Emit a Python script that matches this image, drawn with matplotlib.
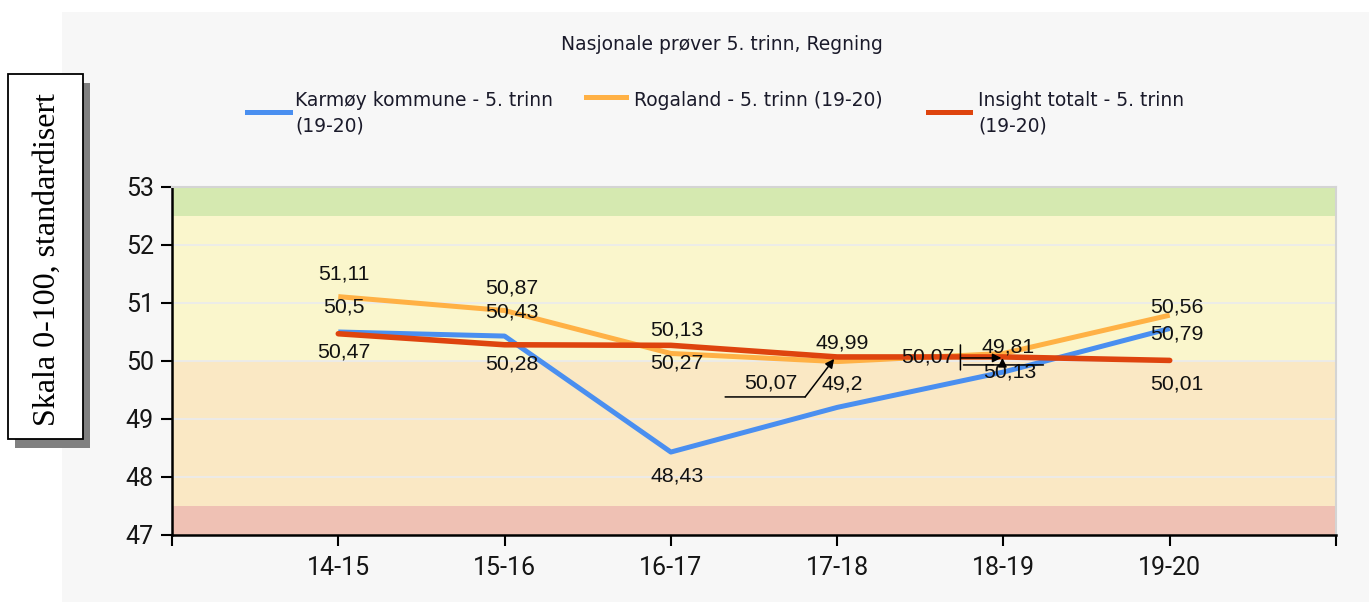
import matplotlib
matplotlib.use("Agg")
import matplotlib.pyplot as plt
from matplotlib.patches import Rectangle
from matplotlib.lines import Line2D

# --- values ---
seasons = ["14-15", "15-16", "16-17", "17-18", "18-19", "19-20"]
karmoy = [50.5, 50.43, 48.43, 49.2, 49.81, 50.56]
rogaland = [51.11, 50.87, 50.13, 49.99, 50.13, 50.79]
insight = [50.47, 50.28, 50.27, 50.07, 50.07, 50.01]

y_ticks = [47, 48, 49, 50, 51, 52, 53]

# coloured bands behind the lines (low, high)
bands = [(47, 47.5), (47.5, 50), (50, 52.5), (52.5, 53)]
band_colours = ["#efc1b4", "#fae8c4", "#faf6cc", "#d5e9b0"]

title = "Nasjonale prøver 5. trinn, Regning"
series_names = ["Karmøy kommune - 5. trinn\n(19-20)",
                "Rogaland - 5. trinn (19-20)",
                "Insight totalt - 5. trinn\n(19-20)"]
ylabel = "Skala 0-100, standardisert"

BLUE = "#4a8ff0"
ORANGE = "#ffb145"
RED = "#de440e"

W, H = 1369, 602
DPI = 100
PT = 72 / DPI  # one pixel in points

# where each data label sits, in pixels from its point (dx right, dy down)
blue_offsets = [(6, -25), (7, -24), (6, 24), (5, -23), (5, -25), (7, -22)]
orange_offsets = [(6, -23), (7, -23), (6, -23), (5, -19), (6, 19), (7, 19)]
red_offsets = [(6, 18), (7, 19), (6, 18), (-66, 26), (-76, 0), (7, 24)]


def fx(px):
    return px / W


def fy(py):
    return 1 - py / H


def fmt(v):
    return f"{v:g}".replace(".", ",")


def main():
    fig = plt.figure(figsize=(W / DPI, H / DPI), dpi=DPI, facecolor="white")

    # light grey chart area
    fig.add_artist(Rectangle((fx(62), 0), 1 - fx(62), fy(12), transform=fig.transFigure,
                             facecolor="#f7f7f7", edgecolor="none", zorder=0))

    ax = fig.add_axes([fx(172), fy(535), fx(1336) - fx(172), fy(187) - fy(535)])
    ax.set_facecolor("#faf6cc")
    x = list(range(len(seasons)))
    ax.set_xlim(-1, len(seasons))
    ax.set_ylim(47, 53)

    for (lo, hi), c in zip(bands, band_colours):
        ax.axhspan(lo, hi, color=c, lw=0, zorder=0)
    for t in y_ticks[1:-1]:
        ax.axhline(t, color="#ebebeb", lw=1.3, zorder=1)

    ax.plot(x, karmoy, color=BLUE, lw=3.6, zorder=3, solid_capstyle="butt")
    ax.plot(x, rogaland, color=ORANGE, lw=3.6, zorder=3, solid_capstyle="butt")
    ax.plot(x, insight, color=RED, lw=4.0, zorder=4, solid_capstyle="round")

    # data labels
    for vals, offs in [(karmoy, blue_offsets), (rogaland, orange_offsets), (insight, red_offsets)]:
        for i, (v, (dx, dy)) in enumerate(zip(vals, offs)):
            ax.annotate(fmt(v), (i, v), xytext=(dx * PT, -dy * PT), textcoords="offset points",
                        ha="center", va="center", fontsize=15.3, color="#111111",
                        family="Liberation Sans", zorder=6)

    # leader lines for the crowded labels (positions in pixels from the point)
    def at(i, v, dx, dy):
        px, py = ax.transData.transform((i, v))
        return px + dx, py - dy

    def leader(p1, p2, style="-"):
        ax.annotate("", xy=p2, xycoords="figure pixels", xytext=p1, textcoords="figure pixels",
                    arrowprops=dict(arrowstyle=style, color="black", lw=1.1,
                                    shrinkA=0, shrinkB=0, mutation_scale=13), zorder=7)

    leader(at(3, insight[3], -112, 40), at(3, insight[3], -32, 40))
    leader(at(3, insight[3], -32, 40), at(3, insight[3], -3, 2), "-|>")
    leader(at(4, insight[4], -43, -12), at(4, insight[4], -43, 13))
    leader(at(4, insight[4], -43, 1), at(4, insight[4], -2, 1), "-|>")
    leader(at(4, insight[4], -40, 8), at(4, insight[4], 40, 8))
    leader(at(4, insight[4], -1, 8), at(4, insight[4], -1, 1), "-|>")

    # axes styling
    ax.set_xticks([-1] + x + [len(seasons)])
    ax.set_xticklabels([""] + seasons + [""])
    ax.set_yticks(y_ticks)
    ax.set_yticklabels([str(t) for t in y_ticks])
    ax.tick_params(axis="both", direction="out", length=8, width=1.5, color="black",
                   labelsize=18, labelcolor="#151515", pad=5)
    ax.tick_params(axis="x", pad=7)
    for lab in ax.get_xticklabels() + ax.get_yticklabels():
        lab.set_family("Roboto")
    ax.spines["left"].set_linewidth(1.8)
    ax.spines["bottom"].set_linewidth(1.8)
    ax.spines["top"].set_color("#d4d4d4")
    ax.spines["right"].set_color("#d4d4d4")
    ax.spines["top"].set_linewidth(1.5)
    ax.spines["right"].set_linewidth(1.5)

    # title + legend (drawn by hand to get the wrapped entries right)
    fig.text(fx(722), fy(44), title, ha="center", va="center", fontsize=13.5, color="#1a1a2a")
    legend_items = [(BLUE, 247, 290, 112, 295), (ORANGE, 586, 626, 97, 634), (RED, 928, 970, 112, 978)]
    for (c, x0, x1, ly, tx), name in zip(legend_items, series_names):
        fig.add_artist(Line2D([fx(x0), fx(x1)], [fy(ly), fy(ly)], transform=fig.transFigure,
                              color=c, lw=3.6))
        for k, line in enumerate(name.split("\n")):
            fig.text(fx(tx), fy(106 + 25 * k), line, ha="left", va="baseline",
                     fontsize=13.5, color="#1a1a2a")

    # boxed y-axis title with a drop shadow
    fig.add_artist(Rectangle((fx(15), fy(448)), fx(75), fy(74) - fy(439), transform=fig.transFigure,
                             facecolor="#808080", edgecolor="none", zorder=1))
    fig.add_artist(Rectangle((fx(8), fy(439)), fx(75), fy(74) - fy(439), transform=fig.transFigure,
                             facecolor="white", edgecolor="black", lw=1.3, zorder=2))
    fig.text(fx(47), fy(260), ylabel, rotation=90, ha="center", va="center",
             fontsize=23, family="Liberation Serif", color="black", zorder=3)

    fig.savefig("out.png", dpi=DPI, facecolor="white")


if __name__ == "__main__":
    main()
